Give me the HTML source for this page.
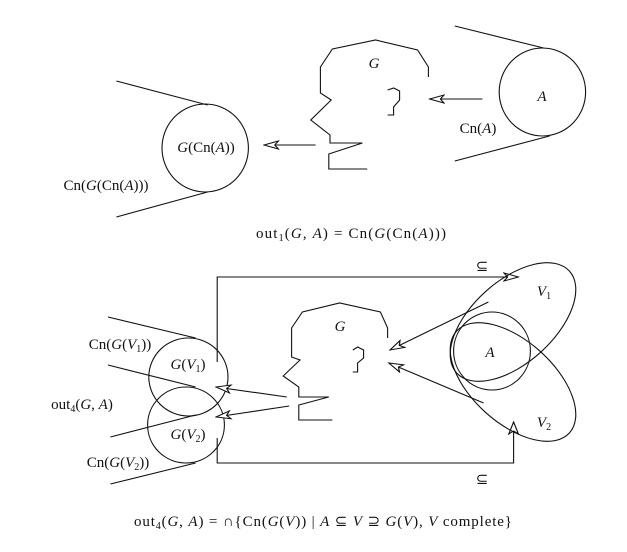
<!DOCTYPE html>
<html><head><meta charset="utf-8"><style>
html,body{margin:0;padding:0;background:#fff;}
svg{display:block;}
text{font-family:"Liberation Serif",serif;font-size:15px;fill:#111;}
.i{font-style:italic;}
.s{font-size:10px;}
.sh *{vector-effect:non-scaling-stroke;}
</style></head><body>
<svg width="627" height="552" viewBox="0 0 627 552" xmlns="http://www.w3.org/2000/svg">
<defs>
<marker id="ah" markerWidth="14" markerHeight="10" refX="13" refY="5" orient="auto" markerUnits="userSpaceOnUse">
<path d="M1,1 L13,5 L1,9 L4,5 Z" fill="#fff" stroke="#111" stroke-width="1"/>
</marker>
</defs>
<g class="sh" fill="none" stroke="#111" stroke-width="1.1" transform="scale(1.2,1)">
<g>
<ellipse cx="452" cy="92" rx="36" ry="44"/>
<line x1="379" y1="26" x2="453" y2="48"/>
<line x1="379" y1="161" x2="458" y2="136"/>
<polyline points="357,77 357,67 348,50 313,40 277,49 267,67 267,93 276,100 259,120 275,135 275,143 302,143 274,154 274,169 306,169"/>
<polyline points="323,90 328,88 333,91 333,100 328,107 328,115 323,115"/>
<line x1="402" y1="99" x2="358" y2="99" marker-end="url(#ah)"/>
<line x1="263" y1="145" x2="220" y2="145" marker-end="url(#ah)"/>
<ellipse cx="171" cy="148" rx="36" ry="44"/>
<line x1="97" y1="81" x2="173" y2="105"/>
<line x1="97" y1="217" x2="173" y2="192"/>
</g>
<g>
<polyline points="181,362 181,277 432,277" marker-end="url(#ah)"/>
<polyline points="181,438 181,463 428,463 428,422" marker-end="url(#ah)"/>
<ellipse cx="410" cy="351" rx="32" ry="39"/>
<line x1="407" y1="302" x2="325" y2="350" marker-end="url(#ah)"/>
<line x1="403" y1="403" x2="324" y2="363" marker-end="url(#ah)"/>
<polyline points="323,338 323,328 317,312 283,303 252,312 243,328 243,357 250,360 236,376 249,387 249,397 274,397 249,405 249,420 277,420"/>
<polyline points="294,350 298,347 303,350 303,358 298,363 298,372 294,372"/>
<ellipse cx="157" cy="377" rx="33" ry="39"/>
<ellipse cx="155" cy="425" rx="32" ry="38"/>
<line x1="90" y1="317" x2="163" y2="338"/>
<line x1="90" y1="365" x2="163" y2="387"/>
<line x1="92" y1="437" x2="163" y2="415"/>
<line x1="92" y1="484" x2="163" y2="463"/>
<line x1="239" y1="397" x2="180" y2="387" marker-end="url(#ah)"/>
<line x1="241" y1="406" x2="180" y2="417" marker-end="url(#ah)"/>
</g>
</g>
<g fill="none" stroke="#111" stroke-width="1.1">
<ellipse cx="513" cy="322" rx="76" ry="41" transform="rotate(-42 513 322)"/>
<ellipse cx="513" cy="382" rx="76" ry="41" transform="rotate(42 513 382)"/>
</g>
<g text-anchor="middle">
<text x="542" y="101" class="i">A</text>
<text x="478" y="133">Cn(<tspan class="i">A</tspan>)</text>
<text x="374" y="68" class="i">G</text>
<text x="206" y="152"><tspan class="i">G</tspan>(Cn(<tspan class="i">A</tspan>))</text>
<text x="106" y="190">Cn(<tspan class="i">G</tspan>(Cn(<tspan class="i">A</tspan>)))</text>
<text x="351" y="238" textLength="190">out<tspan class="s" dy="3">1</tspan><tspan dy="-3">(</tspan><tspan class="i">G</tspan>, <tspan class="i">A</tspan>) = Cn(<tspan class="i">G</tspan>(Cn(<tspan class="i">A</tspan>)))</text>
<text x="482" y="271">⊆</text>
<text x="482" y="484">⊆</text>
<text x="490" y="357" class="i">A</text>
<text x="544" y="296"><tspan class="i">V</tspan><tspan class="s" dy="3">1</tspan></text>
<text x="544" y="427"><tspan class="i">V</tspan><tspan class="s" dy="3">2</tspan></text>
<text x="340" y="331" class="i">G</text>
<text x="120" y="349">Cn(<tspan class="i">G</tspan>(<tspan class="i">V</tspan><tspan class="s" dy="3">1</tspan><tspan dy="-3">))</tspan></text>
<text x="82" y="409">out<tspan class="s" dy="3">4</tspan><tspan dy="-3">(</tspan><tspan class="i">G</tspan>, <tspan class="i">A</tspan>)</text>
<text x="188" y="369"><tspan class="i">G</tspan>(<tspan class="i">V</tspan><tspan class="s" dy="3">1</tspan><tspan dy="-3">)</tspan></text>
<text x="188" y="439"><tspan class="i">G</tspan>(<tspan class="i">V</tspan><tspan class="s" dy="3">2</tspan><tspan dy="-3">)</tspan></text>
<text x="118" y="467">Cn(<tspan class="i">G</tspan>(<tspan class="i">V</tspan><tspan class="s" dy="3">2</tspan><tspan dy="-3">))</tspan></text>
<text x="323" y="526" textLength="378">out<tspan class="s" dy="3">4</tspan><tspan dy="-3">(</tspan><tspan class="i">G</tspan>, <tspan class="i">A</tspan>) = ∩{Cn(<tspan class="i">G</tspan>(<tspan class="i">V</tspan>)) | <tspan class="i">A</tspan> ⊆ <tspan class="i">V</tspan> ⊇ <tspan class="i">G</tspan>(<tspan class="i">V</tspan>), <tspan class="i">V</tspan> complete}</text>
</g>
</svg>
</body></html>
